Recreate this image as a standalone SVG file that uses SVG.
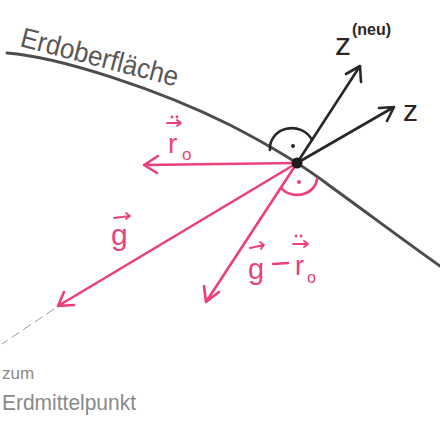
<svg xmlns="http://www.w3.org/2000/svg" width="440" height="422" viewBox="0 0 440 422">
<style>
.pk{stroke:#ec3f7c;stroke-width:2.6;fill:none;stroke-linecap:round;stroke-linejoin:round}
.bk{stroke:#2b2626;stroke-width:2.6;fill:none;stroke-linecap:round;stroke-linejoin:round}
.pt{fill:#ec3f7c;font-family:"Liberation Sans",sans-serif}
.bt{fill:#2b2626;font-family:"Liberation Sans",sans-serif}
.gt{fill:#8a8a8a;font-family:"Liberation Sans",sans-serif}
.va{stroke:#ec3f7c;stroke-width:1.8;fill:none;stroke-linecap:round;stroke-linejoin:round}
</style>
<rect width="440" height="422" fill="#ffffff"/>
<g id="surface">
<path d="M7,53 C60,57 160,90 230,125 C265,143 300,163 330,186 C370,215 410,245 440,266" stroke="#4e4b4b" stroke-width="3" fill="none" stroke-linecap="round"/>
<text x="0" y="0" font-size="28" transform="translate(19,46) rotate(14.5)" textLength="162" lengthAdjust="spacingAndGlyphs" style="fill:#5a5757;font-family:'Liberation Sans',sans-serif">Erdoberfläche</text>
</g>
<g id="connectors">
<path class="bk" d="M297,163 L360,66 M346,74 L360,66 L361,82"/>
<path class="bk" d="M297,163 L394,107 M379,108 L394,107 L387,121"/>
<path class="pk" d="M297,163 L144,165 M158,156 L144,165 L157,173"/>
<path class="pk" d="M297,163 L58,306 M64,292 L58,306 L74,305"/>
<path class="pk" d="M297,163 L206,302 M204,286 L206,302 L219,292"/>
<path d="M54,309 L2,344" stroke="#9a9a9a" stroke-width="1" stroke-dasharray="9,5" fill="none"/>
</g>
<g id="angles">
<path class="bk" d="M270,150 A22 20 0 0 1 312,140" stroke-width="2.2"/>
<circle cx="293" cy="146" r="2" fill="#2b2626"/>
<path class="pk" d="M281,188 A20 17 0 0 0 317,179" stroke-width="2.2"/>
<circle cx="299" cy="182" r="2" fill="#ec3f7c"/>
<circle cx="297" cy="163" r="5.5" fill="#1e1a1a"/>
</g>
<g id="z-neu">
<text class="bt" x="335" y="55" font-size="32">z</text>
<text class="bt" x="352" y="35" font-size="16" font-weight="bold">(neu)</text>
</g>
<g id="z">
<text class="bt" x="403" y="121" font-size="30">z</text>
</g>
<g id="label-r0">
<circle cx="172" cy="117" r="1.4" fill="#ec3f7c"/>
<circle cx="177" cy="117" r="1.4" fill="#ec3f7c"/>
<path class="va" d="M167,123 L181,123 M177,120 L181,123 L177,126"/>
<text class="pt" x="168" y="153" font-size="28">r</text>
<text class="pt" x="182" y="160" font-size="17">o</text>
</g>
<g id="label-g">
<path class="va" d="M114,218 L130,216 M126,213 L130,216 L126,219"/>
<text class="pt" x="111" y="245" font-size="30">g</text>
</g>
<g id="label-g-r0">
<path class="va" d="M250,248 L264,245 M260,242 L264,245 L261,249"/>
<text class="pt" x="248" y="279" font-size="29">g</text>
<path d="M273,264 L288,263" stroke="#ec3f7c" stroke-width="2.4" stroke-linecap="round"/>
<circle cx="296" cy="236" r="1.4" fill="#ec3f7c"/>
<circle cx="301" cy="236" r="1.4" fill="#ec3f7c"/>
<path class="va" d="M293,244 L308,244 M304,241 L308,244 L304,247"/>
<text class="pt" x="295" y="275" font-size="27">r</text>
<text class="pt" x="307" y="283" font-size="16">o</text>
</g>
<g id="label-center">
<text class="gt" x="2" y="379" font-size="17">zum</text>
<text class="gt" x="2" y="410" font-size="22" textLength="134" lengthAdjust="spacingAndGlyphs">Erdmittelpunkt</text>
</g>
</svg>
